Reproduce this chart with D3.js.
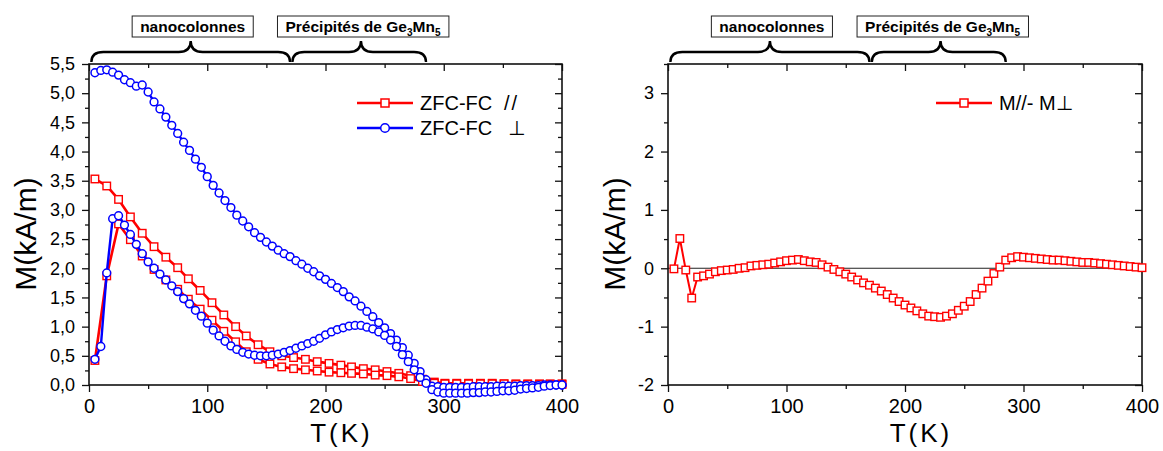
<!DOCTYPE html>
<html>
<head>
<meta charset="utf-8">
<script src="https://cdn.jsdelivr.net/npm/d3@7"></script>
<style>
body { margin: 0; background: #fff; }
svg text { font-family: "Liberation Sans", Arial, sans-serif; fill: #000; }
</style>
</head>
<body>
<div id="chart"></div>
<script>
// ---- data ----
const tRed = [5,15,25,35,45,55,65,75,84,94,104,114,124,133,143,153,163,173,183,193,203,213,
    222,232,242,252,262,272,282,292,301,311,321,331,341,351,361,371,381,390,400];
const fcPar = [3.53,3.41,3.18,2.88,2.60,2.37,2.19,2.01,1.82,1.62,1.41,1.20,1.00,0.84,0.69,0.57,0.50,0.47,0.44,0.40,0.37,0.34,
    0.31,0.28,0.26,0.23,0.20,0.16,0.10,0.05,0.03,0.03,0.03,0.03,0.03,0.02,0.02,0.02,0.02,0.02,0.02];
const zfcPar = [0.42,1.87,2.76,2.49,2.21,1.98,1.80,1.64,1.47,1.30,1.11,0.92,0.74,0.57,0.44,0.36,0.31,0.28,0.26,0.24,0.22,0.21,
    0.20,0.19,0.17,0.16,0.14,0.11,0.06,0.03,0.02,0.02,0.02,0.02,0.02,0.02,0.01,0.01,0.01,0.01,0.01];

const tBlue = [5,10,15,20,25,30,35,40,45,50,55,60,65,70,75,80,85,90,95,100,
    105,110,115,120,125,130,135,140,145,150,155,160,165,170,175,180,185,190,195,200,
    205,210,215,220,225,230,235,240,245,250,255,260,265,270,275,280,285,290,295,300,
    305,310,315,320,325,330,335,340,345,350,355,360,365,370,375,380,385,390,395,400];
const fcPerp = [5.35,5.39,5.40,5.36,5.31,5.23,5.18,5.12,5.14,5.02,4.85,4.73,4.59,4.45,4.31,4.16,4.02,3.87,3.73,3.57,
    3.42,3.29,3.16,3.04,2.91,2.81,2.71,2.61,2.53,2.45,2.38,2.31,2.25,2.20,2.13,2.07,2.00,1.94,1.87,1.81,
    1.74,1.67,1.60,1.51,1.44,1.35,1.26,1.17,1.07,0.98,0.88,0.77,0.64,0.51,0.37,0.23,0.09,-0.02,-0.03,-0.04,
    -0.04,-0.04,-0.04,-0.04,-0.03,-0.03,-0.03,-0.03,-0.02,-0.02,-0.02,-0.02,-0.01,-0.01,-0.01,-0.01,0.00,0.00,0.00,0.00];
const zfcPerp = [0.44,0.66,1.92,2.85,2.90,2.74,2.58,2.41,2.25,2.11,2.00,1.90,1.80,1.70,1.60,1.48,1.39,1.28,1.18,1.06,
    0.94,0.84,0.75,0.67,0.61,0.56,0.53,0.51,0.50,0.50,0.51,0.53,0.56,0.59,0.63,0.67,0.71,0.75,0.80,0.86,
    0.91,0.95,0.98,1.01,1.02,1.02,0.99,0.96,0.91,0.85,0.77,0.66,0.52,0.40,0.26,0.13,0.03,-0.08,-0.12,-0.14,
    -0.14,-0.14,-0.14,-0.14,-0.13,-0.13,-0.12,-0.12,-0.11,-0.10,-0.10,-0.09,-0.07,-0.06,-0.05,-0.04,-0.02,-0.01,0.00,0.00];

const diff = [-0.01,0.51,-0.03,-0.51,-0.15,-0.13,-0.10,-0.06,-0.04,-0.03,-0.02,0.00,0.01,0.04,0.05,0.06,0.07,0.09,0.11,0.13,
    0.14,0.15,0.13,0.11,0.10,0.06,0.02,-0.02,-0.06,-0.10,-0.15,-0.20,-0.25,-0.29,-0.34,-0.39,-0.45,-0.51,-0.57,-0.63,
    -0.68,-0.73,-0.78,-0.82,-0.83,-0.84,-0.82,-0.78,-0.72,-0.65,-0.57,-0.45,-0.34,-0.22,-0.09,0.02,0.14,0.18,0.20,0.19,
    0.18,0.17,0.16,0.15,0.14,0.14,0.13,0.12,0.11,0.10,0.10,0.09,0.08,0.07,0.06,0.05,0.04,0.03,0.02,0.01];

const xTicks = [0, 100, 200, 300, 400];
const xMinor = [50, 150, 250, 350];
const leftYTicks = [0, 0.5, 1, 1.5, 2, 2.5, 3, 3.5, 4, 4.5, 5, 5.5];
const leftYMinor = [0.25, 0.75, 1.25, 1.75, 2.25, 2.75, 3.25, 3.75, 4.25, 4.75, 5.25];
const rightYTicks = [-2, -1, 0, 1, 2, 3];
const rightYMinor = [-1.5, -0.5, 0.5, 1.5, 2.5, 3.5];

// regions marked with braces, in kelvin: [start, tip, end]
const regions = [
    { label: 'nanocolonnes', span: [2, 86, 170] },
    { label: 'precip', span: [172, 230, 285] }
];

const RED = '#ff0000', BLUE = '#0000ff';
const W = 1163, H = 451;
const svg = d3.select('#chart').append('svg').attr('width', W).attr('height', H);

const frLocale = d3.formatLocale({ decimal: ',', thousands: '.', grouping: [3], currency: ['', ''] });
const fmtComma = frLocale.format('.1f');
const fmtMinus = (d) => (d < 0 ? '-' + Math.abs(d) : '' + d);

function drawPanel(opts) {
    const g = svg.append('g');
    const x = d3.scaleLinear().domain([0, 400]).range(opts.xRange);
    const y = d3.scaleLinear().domain(opts.yDomain).range([385, 64]);
    const [x0, x1] = x.range();
    const [yb, yt] = y.range();

    // zero line
    if (opts.zeroLine) {
        g.append('line')
            .attr('x1', x0).attr('x2', x1)
            .attr('y1', y(0)).attr('y2', y(0))
            .attr('stroke', '#222').attr('stroke-width', 1.2);
    }

    const styleAxis = (sel, labelSize) => {
        sel.select('.domain').remove();
        sel.selectAll('.tick line').attr('stroke', '#111').attr('stroke-width', 1.3);
        sel.selectAll('.tick text')
            .attr('font-size', labelSize)
            .attr('font-family', '"Liberation Sans", Arial, sans-serif')
            .attr('fill', '#000');
    };

    // bottom
    g.append('g').attr('transform', `translate(0,${yb})`)
        .call(d3.axisBottom(x).tickValues(xTicks).tickSize(7).tickPadding(7).tickFormat(d3.format('d')))
        .call(styleAxis, 20);
    g.append('g').attr('transform', `translate(0,${yb})`)
        .call(d3.axisBottom(x).tickValues(xMinor).tickSize(4).tickFormat(''))
        .call(styleAxis, 20);
    // top (inward)
    g.append('g').attr('transform', `translate(0,${yt})`)
        .call(d3.axisTop(x).tickValues(xTicks).tickSize(-7).tickFormat(''))
        .call(styleAxis, 20);
    g.append('g').attr('transform', `translate(0,${yt})`)
        .call(d3.axisTop(x).tickValues(xMinor).tickSize(-4).tickFormat(''))
        .call(styleAxis, 20);
    // left
    g.append('g').attr('transform', `translate(${x0},0)`)
        .call(d3.axisLeft(y).tickValues(opts.yTicks).tickSize(7).tickPadding(7).tickFormat(opts.yFmt))
        .call(styleAxis, 18);
    g.append('g').attr('transform', `translate(${x0},0)`)
        .call(d3.axisLeft(y).tickValues(opts.yMinor).tickSize(4).tickFormat(''))
        .call(styleAxis, 18);
    // right (inward)
    g.append('g').attr('transform', `translate(${x1},0)`)
        .call(d3.axisRight(y).tickValues(opts.yTicks).tickSize(-7).tickFormat(''))
        .call(styleAxis, 18);
    g.append('g').attr('transform', `translate(${x1},0)`)
        .call(d3.axisRight(y).tickValues(opts.yMinor).tickSize(-4).tickFormat(''))
        .call(styleAxis, 18);

    // frame
    g.append('rect')
        .attr('x', x0).attr('y', yt)
        .attr('width', x1 - x0).attr('height', yb - yt)
        .attr('fill', 'none').attr('stroke', '#111').attr('stroke-width', 1.6);

    // series
    for (const s of opts.series) {
        const pts = s.t.map((t, i) => ({ t: t, v: s.v[i] }));
        const line = d3.line().x((d) => x(d.t)).y((d) => y(d.v));
        g.append('path').datum(pts)
            .attr('d', line)
            .attr('fill', 'none')
            .attr('stroke', s.color)
            .attr('stroke-width', s.width)
            .attr('stroke-linejoin', 'round');
        if (s.marker === 'square') {
            g.append('g').selectAll('rect').data(pts).join('rect')
                .attr('x', (d) => x(d.t) - 3.75).attr('y', (d) => y(d.v) - 3.75)
                .attr('width', 7.5).attr('height', 7.5)
                .attr('fill', '#fff').attr('stroke', s.color).attr('stroke-width', 1.4);
        } else {
            g.append('g').selectAll('circle').data(pts).join('circle')
                .attr('cx', (d) => x(d.t)).attr('cy', (d) => y(d.v))
                .attr('r', 3.9)
                .attr('fill', '#fff').attr('stroke', s.color).attr('stroke-width', 1.5);
        }
    }

    // axis titles
    g.append('text')
        .attr('transform', `translate(${opts.yTitleX},234) rotate(-90)`)
        .attr('text-anchor', 'middle')
        .attr('font-size', 30)
        .text('M(kA/m)');
    g.append('text')
        .attr('x', (x0 + x1) / 2 + 16).attr('y', 442)
        .attr('text-anchor', 'middle')
        .attr('font-size', 26)
        .attr('letter-spacing', 3)
        .text('T(K)');

    // braces + labelled boxes
    const braceY = 62, flatY = 52, tipY = 41;
    for (const r of regions) {
        const a = x(r.span[0]), m = x(r.span[1]), b = x(r.span[2]);
        const p = d3.path();
        p.moveTo(a, braceY);
        p.quadraticCurveTo(a, flatY, a + 12, flatY);
        p.lineTo(m - 12, flatY);
        p.quadraticCurveTo(m, flatY, m, tipY);
        p.quadraticCurveTo(m, flatY, m + 12, flatY);
        p.lineTo(b - 12, flatY);
        p.quadraticCurveTo(b, flatY, b, braceY);
        g.append('path').attr('d', p.toString())
            .attr('fill', 'none').attr('stroke', '#000').attr('stroke-width', 2.4);

        const rg = g.append('g');
        const box = rg.append('rect');
        const lbl = rg.append('text')
            .attr('x', m + 2).attr('y', 32)
            .attr('text-anchor', 'middle')
            .attr('font-size', 15.5)
            .attr('font-weight', 'bold');
        if (r.label === 'nanocolonnes') {
            lbl.text('nanocolonnes');
        } else {
            lbl.append('tspan').text('Précipités de Ge');
            lbl.append('tspan').attr('font-size', 10).attr('dy', 4).text('3');
            lbl.append('tspan').attr('dy', -4).text('Mn');
            lbl.append('tspan').attr('font-size', 10).attr('dy', 4).text('5');
        }
        const bb = lbl.node().getBBox();
        box.attr('x', bb.x - 8).attr('y', 16)
            .attr('width', bb.width + 16).attr('height', 21)
            .attr('fill', '#fff').attr('stroke', '#222').attr('stroke-width', 1);
    }

    // legend
    opts.legend.forEach((item, i) => {
        const ly = 103 + i * 25;
        const lx0 = opts.legendX, lx1 = opts.legendX + 56, lm = (lx0 + lx1) / 2;
        g.append('line').attr('x1', lx0).attr('x2', lx1).attr('y1', ly).attr('y2', ly)
            .attr('stroke', item.color).attr('stroke-width', 2.5);
        if (item.marker === 'square') {
            g.append('rect').attr('x', lm - 4).attr('y', ly - 4).attr('width', 8).attr('height', 8)
                .attr('fill', '#fff').attr('stroke', item.color).attr('stroke-width', 1.5);
        } else {
            g.append('circle').attr('cx', lm).attr('cy', ly).attr('r', 4.3)
                .attr('fill', '#fff').attr('stroke', item.color).attr('stroke-width', 1.5);
        }
        const t = g.append('text').attr('x', lx1 + 7).attr('y', ly + 7).attr('font-size', 20);
        item.parts.forEach((part) => {
            const ts = t.append('tspan').text(part.s);
            if (part.dx) ts.attr('x', lx1 + 7 + part.dx);
            if (part.ls) ts.attr('letter-spacing', part.ls);
            if (part.font) ts.attr('font-family', part.font);
        });
    });
}

drawPanel({
    xRange: [89, 562],
    yDomain: [0, 5.5],
    yTicks: leftYTicks, yMinor: leftYMinor, yFmt: fmtComma,
    yTitleX: 36,
    series: [
        { t: tRed, v: fcPar, color: RED, width: 2.6, marker: 'square' },
        { t: tRed, v: zfcPar, color: RED, width: 2.6, marker: 'square' },
        { t: tBlue, v: fcPerp, color: BLUE, width: 2.4, marker: 'circle' },
        { t: tBlue, v: zfcPerp, color: BLUE, width: 2.4, marker: 'circle' }
    ],
    legendX: 357,
    legend: [
        { color: RED, marker: 'square', parts: [{ s: 'ZFC-FC' }, { s: '//', dx: 84, ls: 2 }] },
        { color: BLUE, marker: 'circle', parts: [{ s: 'ZFC-FC' }, { s: '⊥', dx: 88, font: '"DejaVu Sans", sans-serif' }] }
    ]
});

drawPanel({
    xRange: [668, 1142],
    yDomain: [-2, 3.5],
    yTicks: rightYTicks, yMinor: rightYMinor, yFmt: fmtMinus,
    yTitleX: 625,
    zeroLine: true,
    series: [
        { t: tBlue, v: diff, color: RED, width: 2, marker: 'square' }
    ],
    legendX: 936,
    legend: [
        { color: RED, marker: 'square', parts: [{ s: 'M//- M' }, { s: '⊥', font: '"DejaVu Sans", sans-serif' }] }
    ]
});
</script>
</body>
</html>
